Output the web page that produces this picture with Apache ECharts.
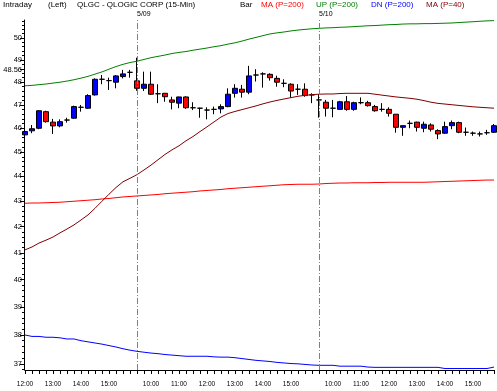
<!DOCTYPE html>
<html><head><meta charset="utf-8">
<script src="https://cdn.jsdelivr.net/npm/echarts@6/dist/echarts.min.js"></script>
<style>html,body{margin:0;padding:0;background:#fff}#c{width:497px;height:391px}</style>
</head><body><div id="c"></div>
<script>
// ---- data ----
const dayLabels = ['5/08', '5/09', '5/10'];
const day1Times = ['12:00','12:15','12:30','12:45','13:00','13:15','13:30','13:45','14:00','14:15','14:30','14:45','15:00','15:15','15:30','15:45'];
const sessionTimes = ['09:30','09:45','10:00','10:15','10:30','10:45','11:00','11:15','11:30','11:45','12:00','12:15','12:30','12:45','13:00','13:15','13:30','13:45','14:00','14:15','14:30','14:45','15:00','15:15','15:30','15:45'];

const openP  = [45.72,45.89,46.00,46.71,46.26,46.10,46.35,46.43,46.90,46.86,47.44,48.13,48.07,48.00,48.25,48.44,
                48.06,47.73,47.91,47.49,47.51,47.22,47.08,47.35,46.88,46.86,46.78,46.81,46.83,46.93,47.51,47.69,47.56,48.32,48.37,48.35,48.17,47.95,47.91,47.69,47.69,47.44,
                47.22,47.12,46.86,46.81,47.14,46.81,47.10,47.10,46.93,46.81,46.81,46.60,46.04,46.21,46.26,46.00,46.14,45.90,45.79,46.11,46.24,45.83,45.79,45.76,45.81,45.83];
const closeP = [45.86,45.98,46.75,46.28,46.10,46.28,46.35,46.93,46.90,47.41,48.13,48.13,48.07,48.28,48.37,48.44,
                47.73,47.91,47.47,47.49,47.36,47.12,47.35,46.88,46.88,46.86,46.78,46.81,46.93,47.47,47.73,47.56,48.28,48.32,48.37,48.20,48.00,47.95,47.61,47.69,47.41,47.44,
                47.22,46.86,46.86,47.14,46.81,47.10,47.10,46.97,46.75,46.81,46.64,46.04,46.11,46.21,46.04,46.17,45.96,45.76,46.07,46.24,45.83,45.83,45.79,45.76,45.81,46.11];
const lowP   = [45.60,45.79,45.96,46.24,45.76,46.04,46.24,46.40,46.71,46.83,47.41,47.91,47.66,47.73,48.17,48.20,
                47.62,47.61,47.44,47.08,47.14,46.81,46.86,46.83,46.78,46.45,46.38,46.60,46.64,46.90,47.32,47.32,47.47,48.03,47.76,48.07,47.80,47.78,47.32,47.44,47.36,47.08,
                46.45,46.50,46.47,46.78,46.75,46.75,47.03,46.93,46.71,46.71,46.50,45.81,45.68,46.00,45.86,45.83,45.86,45.54,45.76,45.96,45.79,45.68,45.68,45.65,45.72,45.80];
const highP  = [46.04,46.14,46.78,46.75,46.40,46.38,46.45,46.97,47.00,47.47,48.17,48.32,48.20,48.32,48.55,48.55,
                49.10,48.47,48.47,47.91,47.51,47.36,47.36,47.38,47.12,46.88,46.90,46.93,47.03,47.73,47.91,47.88,48.73,48.58,48.44,48.40,48.29,48.13,47.95,47.91,47.95,47.51,
                47.47,47.22,47.22,47.18,47.39,47.14,47.33,47.18,47.00,47.08,46.90,46.60,46.11,46.33,46.28,46.28,46.21,45.96,46.28,46.33,46.28,46.03,45.86,45.86,45.93,46.18];

const ma200 = [42.92,42.93,42.93,42.94,42.95,42.96,42.98,43.00,43.02,43.04,43.06,43.09,43.11,43.14,43.17,43.19,
               43.21,43.23,43.25,43.27,43.30,43.32,43.34,43.36,43.38,43.41,43.43,43.45,43.47,43.50,43.52,43.54,43.56,43.58,43.60,43.62,43.64,43.66,43.67,43.68,43.68,43.68,
               43.69,43.71,43.72,43.73,43.73,43.74,43.74,43.74,43.75,43.75,43.76,43.76,43.76,43.76,43.76,43.76,43.77,43.78,43.79,43.80,43.81,43.82,43.83,43.84,43.85,43.85];
const bandUp = [47.84,47.86,47.89,47.92,47.96,48.00,48.05,48.11,48.18,48.26,48.36,48.46,48.58,48.70,48.80,48.88,
                48.94,49.02,49.10,49.16,49.22,49.29,49.34,49.38,49.44,49.49,49.54,49.60,49.65,49.72,49.78,49.86,49.95,50.03,50.11,50.19,50.24,50.28,50.33,50.37,50.40,50.43,
                50.45,50.47,50.48,50.50,50.51,50.53,50.55,50.57,50.58,50.60,50.62,50.63,50.65,50.66,50.66,50.67,50.67,50.68,50.69,50.70,50.72,50.74,50.76,50.78,50.80,50.81];
const bandDn = [38.00,37.95,37.95,37.92,37.92,37.90,37.86,37.86,37.80,37.76,37.72,37.68,37.63,37.58,37.52,37.47,
                37.43,37.40,37.37,37.35,37.32,37.30,37.28,37.26,37.26,37.26,37.26,37.24,37.23,37.23,37.21,37.18,37.15,37.12,37.10,37.08,37.05,37.03,37.01,37.00,36.98,36.96,
                36.95,36.95,36.95,36.92,36.92,36.92,36.92,36.89,36.88,36.88,36.88,36.88,36.88,36.88,36.88,36.88,36.88,36.88,36.84,36.84,36.84,36.84,36.84,36.84,36.84,36.89];
const ma40 = [41.11,41.22,41.37,41.48,41.60,41.76,41.91,42.07,42.26,42.46,42.72,43.00,43.28,43.55,43.78,43.92,
              44.07,44.26,44.46,44.68,44.90,45.09,45.26,45.47,45.65,45.86,46.06,46.27,46.48,46.63,46.72,46.80,46.88,46.96,47.05,47.13,47.20,47.26,47.32,47.38,47.42,47.45,
              47.47,47.48,47.48,47.50,47.51,47.51,47.51,47.51,47.47,47.43,47.39,47.35,47.32,47.29,47.25,47.19,47.12,47.07,47.04,47.01,46.98,46.95,46.92,46.90,46.88,46.86];

const yTickLabels = [37,38,39,40,41,42,43,44,45,46,47,48,49,50];
const priceMarker = 48.56;
const yRange = [36.79, 50.84];

// ---- build ----
const L = Math.log;
const categories = [].concat(
  day1Times.map(t => dayLabels[0] + ' ' + t),
  sessionTimes.map(t => dayLabels[1] + ' ' + t),
  sessionTimes.map(t => dayLabels[2] + ' ' + t));
const ohlc = openP.map((o, i) => [L(o), L(closeP[i]), L(lowP[i]), L(highP[i])]);
const majorVals = yTickLabels.map(L).concat([L(priceMarker)]);
const minorVals = [];
for (let k = 184; k <= 254; k++) { if (k % 5 !== 0) minorVals.push(L(k / 5)); }

const chart = echarts.init(document.getElementById('c'), null, {renderer: 'canvas'});
const FONT = 'Liberation Sans';
function hdr(x, text, color) {
  return {type: 'text', left: x, top: 1, silent: true,
    style: {text: text, fill: color, font: '8px "Liberation Sans"'}};
}
const lineS = (name, data, color) => ({
  name: name, type: 'line', data: data.map(L), symbol: 'none', z: 3,
  lineStyle: {color: color, width: 1}, silent: true
});
chart.setOption({
  animation: false,
  backgroundColor: '#ffffff',
  textStyle: {fontFamily: FONT},
  grid: {left: 25, right: 3, top: 20, bottom: 21},
  graphic: [
    hdr(3, 'Intraday', '#000'),
    hdr(48, '(Left)', '#000'),
    hdr(77, 'QLGC - QLOGIC CORP (15-Min)', '#000'),
    hdr(240, 'Bar', '#000'),
    hdr(261, 'MA (P=200)', '#ff0000'),
    hdr(316, 'UP (P=200)', '#008000'),
    hdr(371, 'DN (P=200)', '#0000ff'),
    hdr(426, 'MA (P=40)', '#800000')
  ],
  xAxis: {
    type: 'category', data: categories, boundaryGap: false,
    axisLine: {lineStyle: {color: '#000', width: 1}},
    axisTick: {interval: 0, length: 4, lineStyle: {color: '#000'}},
    axisLabel: {interval: (i, v) => v.endsWith(':00'), formatter: v => v.split(' ')[1],
      fontSize: 6.5, color: '#000', margin: 11, fontFamily: FONT},
    splitLine: {show: false}
  },
  yAxis: [{
    type: 'value', position: 'left', min: L(yRange[0]), max: L(yRange[1]), offset: 1,
    axisLine: {show: true, lineStyle: {color: '#000'}},
    axisTick: {show: true, length: 4, customValues: majorVals, lineStyle: {color: '#000'}},
    axisLabel: {customValues: majorVals, fontSize: 7.5, color: '#000', margin: 2, fontFamily: FONT,
      formatter: v => { const p = Math.exp(v); return Math.abs(p - priceMarker) < 0.005 ? priceMarker.toFixed(2) : String(Math.round(p)); }},
    splitLine: {show: false}
  }, {
    type: 'value', position: 'left', min: L(yRange[0]), max: L(yRange[1]), offset: 1,
    axisLine: {show: false},
    axisTick: {show: true, length: 2, customValues: minorVals, lineStyle: {color: '#000'}},
    axisLabel: {show: false}, splitLine: {show: false}
  }],
  series: [
    {
      name: 'Bar', type: 'candlestick', data: ohlc, barWidth: 5, clip: false, z: 2,
      itemStyle: {color: '#0000ff', color0: '#ff0000', borderColor: '#000', borderColor0: '#000', borderColorDoji: '#000', borderWidth: 1},
      markLine: {
        silent: true, symbol: 'none',
        lineStyle: {color: '#808080', width: 1, type: [6, 2, 1, 2]},
        label: {show: true, position: 'end', color: '#000', fontSize: 7, fontFamily: FONT, distance: 2, align: 'left', offset: [0, 0], formatter: p => p.name},
        data: [
          {xAxis: dayLabels[1] + ' 09:30', name: dayLabels[1]},
          {xAxis: dayLabels[2] + ' 09:30', name: dayLabels[2]}
        ]
      }
    },
    lineS('MA (P=200)', ma200, '#ff0000'),
    lineS('UP (P=200)', bandUp, '#008000'),
    lineS('DN (P=200)', bandDn, '#0000ff'),
    lineS('MA (P=40)', ma40, '#800000')
  ]
});
</script></body></html>
